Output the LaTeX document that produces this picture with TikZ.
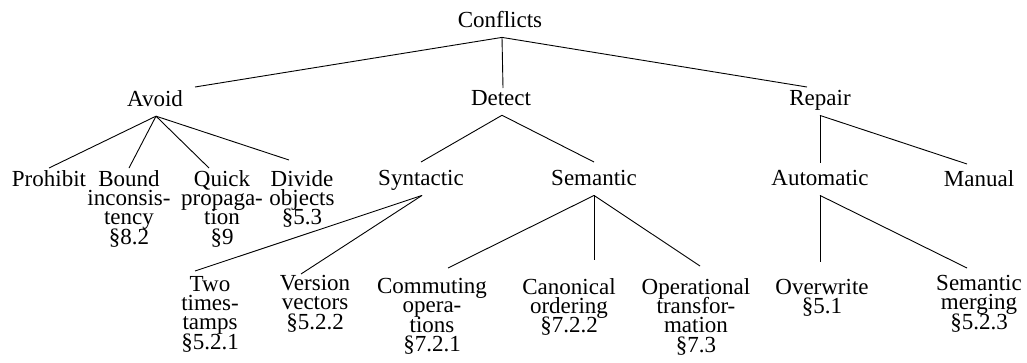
\documentclass[tikz,border=0pt]{standalone}
\usepackage{fontspec}
\setmainfont{Liberation Serif}
\usetikzlibrary{calc}
\tikzset{
  lbl/.style={anchor=north, inner sep=0pt, align=center,
    font={\fontsize{23}{19.3}\selectfont\lineskiplimit=-20pt}},
  branch/.style={line width=0.9pt}
}
\begin{document}
\begin{tikzpicture}[x=1pt,y=-1pt]
\useasboundingbox (0,0) rectangle (1027,362);
% root and first level
\node[lbl] (conflicts) at (500,11) {Conflicts};
\node[lbl] (avoid) at (155,90) {Avoid};
\node[lbl] (detect) at (501,90) {Detect};
\node[lbl] (repair) at (820,90) {Repair};
% second level
\node[lbl] (prohibit) at (49,170) {Prohibit};
\node[lbl] (bound) at (129,170) {Bound\\inconsis-\\tency\\\S8.2};
\node[lbl] (quick) at (222,170) {Quick\\propaga-\\tion\\\S9};
\node[lbl] (divide) at (302,170) {Divide\\objects\\\S5.3};
\node[lbl] (syntactic) at (421,170) {Syntactic};
\node[lbl] (semantic) at (594,170) {Semantic};
\node[lbl] (automatic) at (820,170) {Automatic};
\node[lbl] (manual) at (979,170) {Manual};
% third level
\node[lbl] (twots) at (210,276) {Two\\times-\\tamps\\\S5.2.1};
\node[lbl] (versvec) at (315,275) {Version\\vectors\\\S5.2.2};
\node[lbl] (commut) at (432,278) {Commuting\\opera-\\tions\\\S7.2.1};
\node[lbl] (canon) at (569,278) {Canonical\\ordering\\\S7.2.2};
\node[lbl] (optrans) at (696,278) {Operational\\transfor-\\mation\\\S7.3};
\node[lbl] (overwrite) at (822,279) {Overwrite\\\S5.1};
\node[lbl] (semmerge) at (979,275) {Semantic\\merging\\\S5.2.3};
% branches
\draw[branch] ($(conflicts.base)+(2,10)$) -- ($(avoid.north)+(40,-3)$);
\draw[branch] ($(conflicts.base)+(2,10)$) -- ($(detect.north)+(2,-2)$);
\draw[branch] ($(conflicts.base)+(2,10)$) -- ($(repair.north)+(-13,-3)$);
\draw[branch] ($(avoid.base)+(1,10)$) -- ($(prohibit.north)+(0,-2)$);
\draw[branch] ($(avoid.base)+(1,10)$) -- ($(bound.north)+(0,-2)$);
\draw[branch] ($(avoid.base)+(1,10)$) -- ($(quick.north)+(-13,-2)$);
\draw[branch] ($(avoid.base)+(1,10)$) -- ($(divide.north)+(-13,-10)$);
\draw[branch] ($(detect.base)+(1,10)$) -- ($(syntactic.north)+(0,-8)$);
\draw[branch] ($(detect.base)+(1,10)$) -- ($(semantic.north)+(0,-8)$);
\draw[branch] ($(repair.base)+(0,10)$) -- ($(automatic.north)+(0,-7)$);
\draw[branch] ($(repair.base)+(0,10)$) -- ($(manual.north)+(-12,-6)$);
\draw[branch] ($(syntactic.base)+(1,10)$) -- ($(twots.north)+(-15,-5)$);
\draw[branch] ($(syntactic.base)+(1,10)$) -- ($(versvec.north)+(-14,-1)$);
\draw[branch] ($(semantic.base)+(0,10)$) -- ($(commut.north)+(16,-10)$);
\draw[branch] ($(semantic.base)+(0,10)$) -- ($(canon.north)+(25,-18)$);
\draw[branch] ($(semantic.base)+(0,10)$) -- ($(optrans.north)+(4,-12)$);
\draw[branch] ($(automatic.base)+(0,10)$) -- ($(overwrite.north)+(-2,-17)$);
\draw[branch] ($(automatic.base)+(0,10)$) -- ($(semmerge.north)+(-12,-7)$);
\end{tikzpicture}
\end{document}
